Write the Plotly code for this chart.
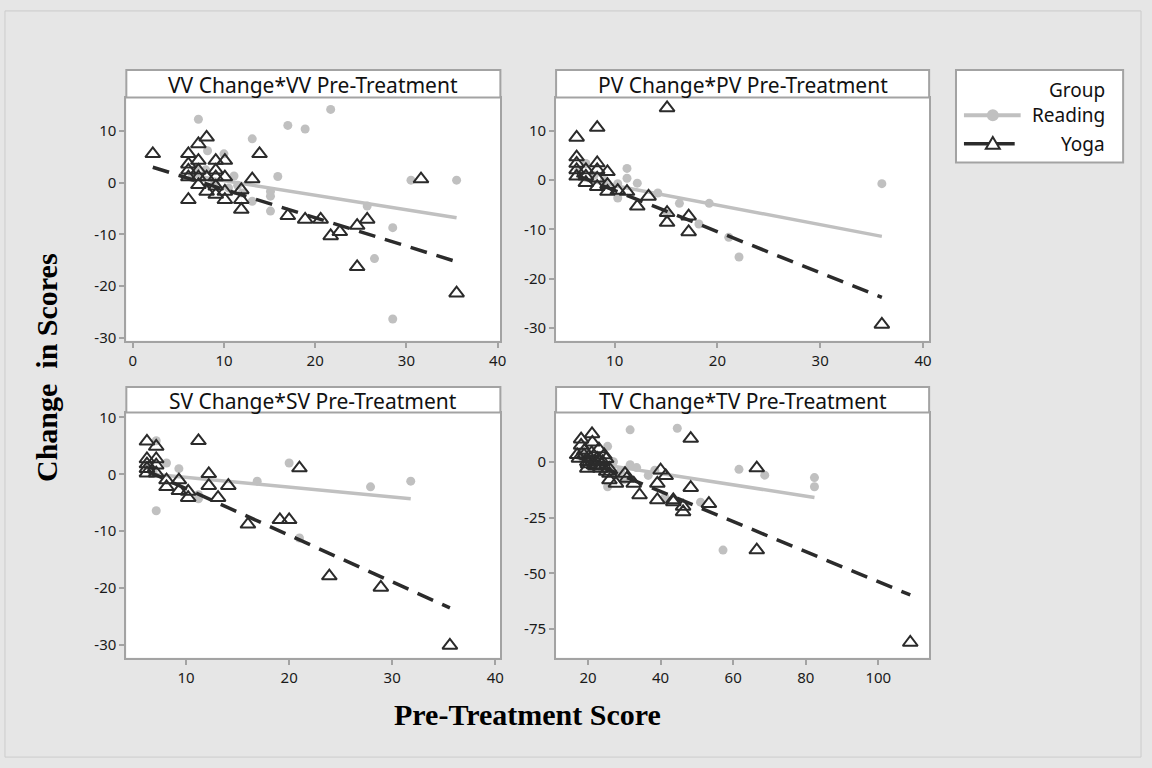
import plotly.graph_objects as go

# ---------------- data ----------------
panel_titles = ["VV Change*VV Pre-Treatment", "PV Change*PV Pre-Treatment",
                "SV Change*SV Pre-Treatment", "TV Change*TV Pre-Treatment"]
group_names = ["Reading", "Yoga"]

vv_read_x = [7.2, 21.7, 17.0, 18.9, 13.1, 8.2, 10.0, 15.9, 11.1, 30.5, 35.5, 15.1, 15.1, 13.1, 15.1,
             25.7, 28.5, 26.5, 28.5, 8.0, 9.0, 10.5, 11.5, 6.5, 7.0, 12.0]
vv_read_y = [12.3, 14.2, 11.1, 10.4, 8.5, 6.2, 5.6, 1.2, 1.3, 0.5, 0.5, -1.7, -2.6, -3.6, -5.5,
             -4.5, -8.7, -14.7, -26.4, 2.5, 0.0, -1.0, -0.5, 1.0, 3.0, -2.0]
vv_yoga_x = [2.2, 6.1, 6.1, 7.2, 8.1, 7.2, 9.1, 10.1, 13.9, 13.1, 31.6, 6.1, 6.1, 7.2, 7.2, 8.1, 9.1,
             9.1, 10.1, 7.2, 8.1, 9.1, 10.1, 10.1, 9.1, 6.1, 11.9, 11.9, 11.9, 17.0, 18.9, 20.6, 21.7,
             22.7, 24.6, 25.7, 24.6, 35.5]
vv_yoga_y = [5.6, 5.6, -3.3, 7.5, 8.8, 4.3, 4.3, 4.3, 5.6, 0.7, 0.7, 2.4, 1.1, 2.4, 1.1, 1.1, 2.4,
             1.1, 1.1, -0.4, -1.7, -2.3, -1.7, -3.3, -0.7, 3.6, -1.4, -3.3, -5.2, -6.4, -7.1, -7.1,
             -10.3, -9.5, -8.3, -7.1, -16.3, -21.4]
vv_read_fit_x = [6.5, 35.5]
vv_read_fit_y = [1.4, -6.8]
vv_yoga_fit_x = [2.2, 35.5]
vv_yoga_fit_y = [3.0, -15.3]

pv_read_x = [7.2, 11.2, 11.2, 12.2, 10.3, 10.3, 14.2, 16.3, 19.2, 18.2, 21.1, 22.1, 36.0, 15.1, 6.5, 8.0, 9.0]
pv_read_y = [3.4, 2.4, 0.4, -0.6, -0.7, -3.6, -2.6, -4.7, -4.7, -8.9, -11.6, -15.6, -0.7, -6.9, 2.0, 1.0, 0.0]
pv_yoga_x = [6.3, 8.3, 15.1, 6.3, 6.3, 6.3, 6.3, 7.2, 7.2, 7.2, 8.3, 8.3, 8.3, 8.3, 9.3, 9.3, 9.3,
             10.3, 11.2, 12.2, 13.3, 15.1, 15.1, 17.2, 17.2, 36.0]
pv_yoga_y = [8.7, 10.7, 14.7, 4.7, 3.4, 2.1, 0.8, 2.1, 0.8, -0.5, 3.5, 2.1, 0.4, -1.3, 1.7, -0.9, -2.3,
             -2.1, -2.3, -5.3, -3.3, -6.6, -8.6, -7.3, -10.5, -29.3]
pv_read_fit_x = [7.0, 36.0]
pv_read_fit_y = [0.1, -11.4]
pv_yoga_fit_x = [6.3, 36.0]
pv_yoga_fit_y = [1.0, -23.8]

sv_read_x = [7.1, 8.1, 9.3, 11.2, 11.2, 16.9, 20.0, 21.0, 27.9, 31.8, 7.1, 6.3, 6.8]
sv_read_y = [-6.4, 2.0, 1.0, -3.6, -4.3, -1.2, 2.0, -11.2, -2.2, -1.2, 5.9, 1.5, 0.5]
sv_yoga_x = [11.2, 7.1, 6.2, 6.2, 6.2, 7.1, 7.1, 7.1, 6.2, 8.1, 8.1, 9.3, 9.3, 10.2, 10.2, 12.2, 12.2,
             13.1, 14.1, 16.0, 19.1, 20.0, 21.0, 23.9, 28.9, 35.6, 6.2]
sv_yoga_y = [5.9, 4.9, 5.8, 2.7, 1.0, 2.7, 1.6, 0.2, 0.2, -1.0, -2.2, -1.0, -2.9, -3.0, -4.1, 0.1, -2.0,
             -4.1, -2.0, -8.8, -8.0, -8.0, 1.1, -17.9, -19.9, -30.1, 1.8]
sv_read_fit_x = [6.3, 31.8]
sv_read_fit_y = [0.1, -4.3]
sv_yoga_fit_x = [6.2, 35.6]
sv_yoga_fit_y = [0.6, -23.5]

tv_read_x = [31.6, 44.6, 25.4, 61.6, 68.7, 82.4, 82.4, 57.2, 51.0, 25.4, 31.6, 33.4, 36.6, 38.4, 41.2,
             19.0, 21.0, 22.0, 23.0, 24.0, 26.0, 27.0, 28.0, 30.0, 29.0]
tv_read_y = [14.3, 15.0, 6.9, -3.4, -6.0, -7.1, -11.2, -39.6, -18.1, -11.2, -1.3, -2.6, -6.1, -3.8, -16.0,
             3.0, 1.0, -2.0, 2.0, -4.0, -3.0, 0.0, -6.0, -8.0, -4.0]
tv_yoga_x = [21.1, 48.3, 66.5, 66.5, 108.8, 48.3, 53.3, 46.2, 46.2, 43.5, 43.5, 39.1, 39.1, 40.0, 41.4,
             34.2, 32.6, 30.2, 30.7, 27.7, 25.9, 25.9, 25.0, 18.1, 17.0, 18.1, 18.9, 19.8, 20.7, 21.6,
             22.5, 23.4, 21.2, 23.0, 17.5, 19.8, 24.0, 24.5, 25.0, 25.8, 20.0, 22.0, 19.0, 21.0, 23.0]
tv_yoga_y = [12.5, 10.4, -2.8, -39.6, -81.0, -11.6, -18.8, -20.0, -22.5, -17.1, -18.0, -17.1, -9.7, -3.8,
             -6.3, -14.9, -9.7, -5.3, -7.5, -9.7, -8.2, -5.3, 1.3, 10.1, 3.1, 7.3, 3.0, 0.0, 1.5, -1.5,
             1.5, -3.0, 8.7, 5.7, 1.5, -3.0, 0.0, 3.0, -4.4, -3.0, -1.0, -2.0, 5.0, 4.0, 0.5]
tv_read_fit_x = [17.5, 82.4]
tv_read_fit_y = [0.4, -16.0]
tv_yoga_fit_x = [17.0, 108.8]
tv_yoga_fit_y = [2.2, -59.7]

x_tick_vals = [[0, 10, 20, 30, 40], [10, 20, 30, 40], [10, 20, 30, 40], [20, 40, 60, 80, 100]]
y_tick_vals = [[10, 0, -10, -20, -30], [10, 0, -10, -20, -30], [10, 0, -10, -20, -30], [0, -25, -50, -75]]
x_title = "Pre-Treatment Score"
y_title = "Change  in Scores"

# ---------------- layout geometry (pixels) ----------------
W, H = 1152, 768
def px(x):
    return x / W
def py(y):
    return 1 - y / H

cols = [(127, 503), (559, 934)]
rows = [(65, 93, 340), (387, 413, 662)]  # strip top, plot top, plot bottom
x_ranges = [[-0.7, 40.3], [4.3, 40.6], [4.2, 40.5], [11.2, 114]]
y_ranges = [[-30.6, 16.5], [-32.6, 16.8], [-32.25, 10.87], [-87.8, 22.06]]

panels = [
    (vv_read_x, vv_read_y, vv_yoga_x, vv_yoga_y, vv_read_fit_x, vv_read_fit_y, vv_yoga_fit_x, vv_yoga_fit_y),
    (pv_read_x, pv_read_y, pv_yoga_x, pv_yoga_y, pv_read_fit_x, pv_read_fit_y, pv_yoga_fit_x, pv_yoga_fit_y),
    (sv_read_x, sv_read_y, sv_yoga_x, sv_yoga_y, sv_read_fit_x, sv_read_fit_y, sv_yoga_fit_x, sv_yoga_fit_y),
    (tv_read_x, tv_read_y, tv_yoga_x, tv_yoga_y, tv_read_fit_x, tv_read_fit_y, tv_yoga_fit_x, tv_yoga_fit_y),
]

READ_COL = "#c0c0c0"
YOGA_COL = "#2b2b2b"
FRAME_COL = "#a3a3a3"
SANS = "Noto Sans, Open Sans, sans-serif"
TICK_FONT = dict(family=SANS, size=15, color="#1a1a1a")

fig = go.Figure()
shapes = []
annotations = []

for i, (rx, ry, yx, yy, rfx, rfy, yfx, yfy) in enumerate(panels):
    ax = "" if i == 0 else str(i + 1)
    xa, ya = "x" + ax, "y" + ax
    fig.add_trace(go.Scatter(x=rx, y=ry, mode="markers", xaxis=xa, yaxis=ya, showlegend=False,
                             name=group_names[0],
                             marker=dict(symbol="circle", size=9, color=READ_COL)))
    fig.add_trace(go.Scatter(x=rfx, y=rfy, mode="lines", xaxis=xa, yaxis=ya, showlegend=False,
                             name=group_names[0], line=dict(color=READ_COL, width=3.5)))
    fig.add_trace(go.Scatter(x=yx, y=yy, mode="markers", xaxis=xa, yaxis=ya, showlegend=False,
                             name=group_names[1],
                             marker=dict(symbol="triangle-up-open", size=13, color=YOGA_COL,
                                         line=dict(width=2, color=YOGA_COL))))
    fig.add_trace(go.Scatter(x=yfx, y=yfy, mode="lines", xaxis=xa, yaxis=ya, showlegend=False,
                             name=group_names[1],
                             line=dict(color=YOGA_COL, width=3.5, dash="17px,10px")))

    c0, c1 = cols[i % 2]
    st, pt, pb = rows[i // 2]
    axis_common = dict(showline=True, mirror=True, linecolor=FRAME_COL, linewidth=2,
                       ticks="outside", ticklen=5, tickwidth=2, tickcolor=FRAME_COL,
                       showgrid=False, zeroline=False, tickfont=TICK_FONT, fixedrange=True)
    fig.update_layout(**{
        "xaxis" + ax: dict(domain=[px(c0), px(c1)], range=x_ranges[i], anchor=ya,
                           tickvals=x_tick_vals[i], ticktext=[str(v) for v in x_tick_vals[i]],
                           **axis_common),
        "yaxis" + ax: dict(domain=[py(pb), py(pt)], range=y_ranges[i], anchor=xa,
                           tickvals=y_tick_vals[i], ticktext=[str(v) for v in y_tick_vals[i]],
                           **axis_common),
    })
    # title strip
    shapes.append(dict(type="rect", xref="paper", yref="paper", x0=px(c0), x1=px(c1),
                       y0=py(pt), y1=py(st), fillcolor="white",
                       line=dict(color=FRAME_COL, width=2)))
    annotations.append(dict(text=panel_titles[i], xref="paper", yref="paper",
                            x=px((c0 + c1) / 2), y=py((st + pt) / 2 + 1), showarrow=False,
                            xanchor="center", yanchor="middle",
                            font=dict(family=SANS, size=21, color="#111111")))

# outer frame
shapes.insert(0, dict(type="rect", xref="paper", yref="paper", x0=px(5), x1=px(1147), y0=py(763), y1=py(5),
                      line=dict(color="#cccccc", width=1)))

# legend box (manual, Minitab style)
shapes.append(dict(type="rect", xref="paper", yref="paper", x0=px(961), x1=px(1129), y0=py(159), y1=py(65),
                   fillcolor="white", line=dict(color=FRAME_COL, width=2)))
shapes.append(dict(type="line", xref="paper", yref="paper", x0=px(969), x1=px(1026), y0=py(111), y1=py(111),
                   line=dict(color=READ_COL, width=4)))
shapes.append(dict(type="circle", xref="paper", yref="paper", x0=px(992), x1=px(1004), y0=py(117), y1=py(105),
                   fillcolor=READ_COL, line=dict(color=READ_COL, width=0)))
shapes.append(dict(type="line", xref="paper", yref="paper", x0=px(969), x1=px(1020), y0=py(140), y1=py(140),
                   line=dict(color=YOGA_COL, width=3.5)))
tri = "M {:.5f},{:.5f} L {:.5f},{:.5f} L {:.5f},{:.5f} Z".format(
    px(991), py(145), px(1005), py(145), px(998), py(133))
shapes.append(dict(type="path", xref="paper", yref="paper", path=tri, fillcolor="white",
                   line=dict(color=YOGA_COL, width=2)))
leg_font = dict(family=SANS, size=19, color="#111111")
for txt, yy in [("Group", 85), ("Reading", 111), ("Yoga", 140)]:
    annotations.append(dict(text=txt, xref="paper", yref="paper", x=px(1113), y=py(yy),
                            xanchor="right", yanchor="middle", showarrow=False, font=leg_font))

# axis titles
title_font = dict(family="Liberation Serif, Times New Roman, serif", size=30, color="#000000")
annotations.append(dict(text="<b>" + x_title + "</b>", xref="paper", yref="paper", x=px(530), y=py(720),
                        xanchor="center", yanchor="middle", showarrow=False, font=title_font))
annotations.append(dict(text="<b>" + y_title + "</b>", xref="paper", yref="paper", x=px(47), y=py(367),
                        xanchor="center", yanchor="middle", showarrow=False, textangle=-90, font=title_font))

fig.update_layout(width=W, height=H, margin=dict(l=0, r=0, t=0, b=0, pad=0),
                  paper_bgcolor="#e6e6e6", plot_bgcolor="white",
                  shapes=shapes, annotations=annotations, showlegend=False)

fig.write_html("out.html", config={"displayModeBar": False},
               post_script="document.body.style.margin='0';document.body.style.overflow='hidden';")
